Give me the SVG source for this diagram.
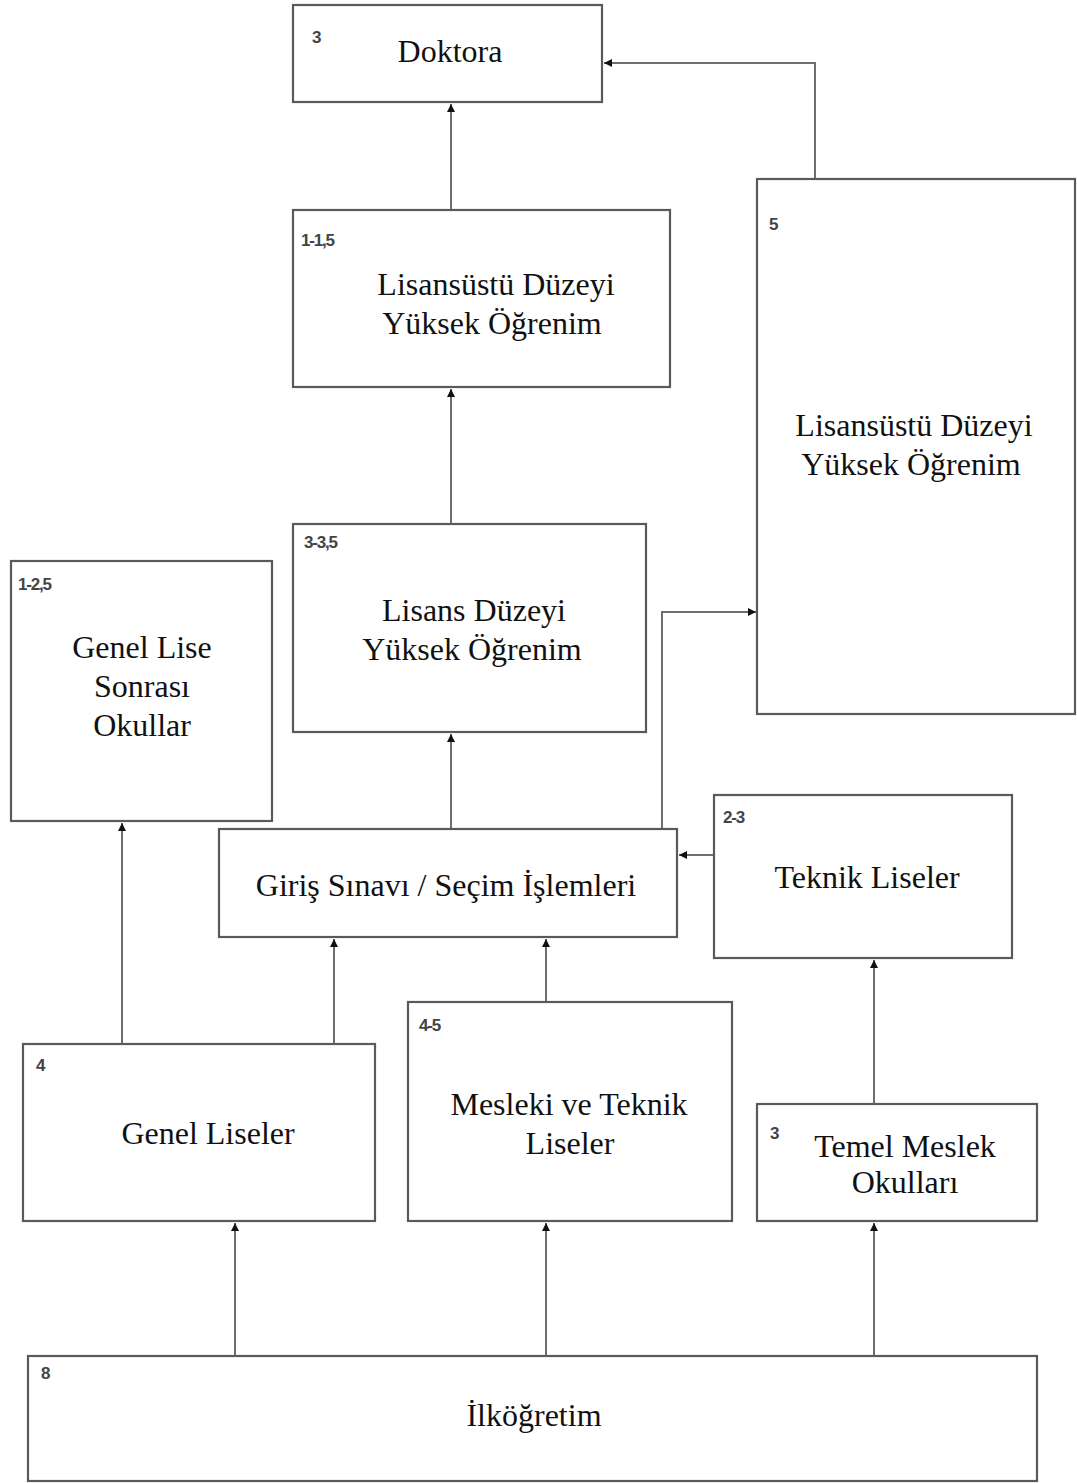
<svg xmlns="http://www.w3.org/2000/svg" width="1077" height="1483" viewBox="0 0 1077 1483">
<style>
.box{fill:#fff;stroke:#5a5a5a;stroke-width:2.2}
.t{font-family:"Liberation Serif","Times New Roman",serif;font-size:32px;fill:#111;text-anchor:middle}
.n{font-family:"Liberation Sans",Arial,sans-serif;font-size:17px;font-weight:bold;fill:#444;letter-spacing:-1.2px}
.c{fill:none;stroke:#6e6e6e;stroke-width:2;marker-end:url(#ah)}
</style>
<defs>
<marker id="ah" viewBox="0 0 10 10" refX="10" refY="5" markerWidth="10" markerHeight="8" markerUnits="userSpaceOnUse" orient="auto">
<path d="M0,0 L10,5 L0,10 z" fill="#111"/>
</marker>
</defs>
<rect width="1077" height="1483" fill="#fff"/>
<g id="connectors">
<path class="c" d="M451,210 V104"/>
<path class="c" d="M815,179 V63 H604"/>
<path class="c" d="M451,524 V389"/>
<path class="c" d="M451,829 V734"/>
<path class="c" d="M662,829 V612 H756"/>
<path class="c" d="M714,855 H679"/>
<path class="c" d="M122,1044 V823"/>
<path class="c" d="M334,1044 V939"/>
<path class="c" d="M546,1002 V939"/>
<path class="c" d="M874,1104 V960"/>
<path class="c" d="M235,1356 V1223"/>
<path class="c" d="M546,1356 V1223"/>
<path class="c" d="M874,1356 V1223"/>
</g>
<g id="doktora">
<rect class="box" x="293" y="5" width="309" height="97"/>
<text class="n" x="312" y="43">3</text>
<text class="t" x="450" y="62">Doktora</text>
</g>
<g id="lisansustu1">
<rect class="box" x="293" y="210" width="377" height="177"/>
<text class="n" x="301" y="246">1-1,5</text>
<text class="t" x="496" y="295">Lisansüstü Düzeyi</text>
<text class="t" x="492" y="334">Yüksek Öğrenim</text>
</g>
<g id="lisansustu2">
<rect class="box" x="757" y="179" width="318" height="535"/>
<text class="n" x="769" y="230">5</text>
<text class="t" x="914" y="436">Lisansüstü Düzeyi</text>
<text class="t" x="911" y="475">Yüksek Öğrenim</text>
</g>
<g id="lisans">
<rect class="box" x="293" y="524" width="353" height="208"/>
<text class="n" x="304" y="548">3-3,5</text>
<text class="t" x="474" y="621">Lisans Düzeyi</text>
<text class="t" x="472" y="660">Yüksek Öğrenim</text>
</g>
<g id="genel-lise-sonrasi">
<rect class="box" x="11" y="561" width="261" height="260"/>
<text class="n" x="18" y="590">1-2,5</text>
<text class="t" x="142" y="658">Genel Lise</text>
<text class="t" x="142" y="697">Sonrası</text>
<text class="t" x="142" y="736">Okullar</text>
</g>
<g id="giris">
<rect class="box" x="219" y="829" width="458" height="108"/>
<text class="t" x="446" y="896">Giriş Sınavı / Seçim İşlemleri</text>
</g>
<g id="teknik">
<rect class="box" x="714" y="795" width="298" height="163"/>
<text class="n" x="723" y="823">2-3</text>
<text class="t" x="867" y="888">Teknik Liseler</text>
</g>
<g id="genel-liseler">
<rect class="box" x="23" y="1044" width="352" height="177"/>
<text class="n" x="36" y="1071">4</text>
<text class="t" x="208" y="1144">Genel Liseler</text>
</g>
<g id="mesleki">
<rect class="box" x="408" y="1002" width="324" height="219"/>
<text class="n" x="419" y="1031">4-5</text>
<text class="t" x="569" y="1115">Mesleki ve Teknik</text>
<text class="t" x="570" y="1154">Liseler</text>
</g>
<g id="temel">
<rect class="box" x="757" y="1104" width="280" height="117"/>
<text class="n" x="770" y="1139">3</text>
<text class="t" x="905" y="1157">Temel Meslek</text>
<text class="t" x="905" y="1193">Okulları</text>
</g>
<g id="ilkogretim">
<rect class="box" x="28" y="1356" width="1009" height="125"/>
<text class="n" x="41" y="1379">8</text>
<text class="t" x="534" y="1426">İlköğretim</text>
</g>
</svg>
